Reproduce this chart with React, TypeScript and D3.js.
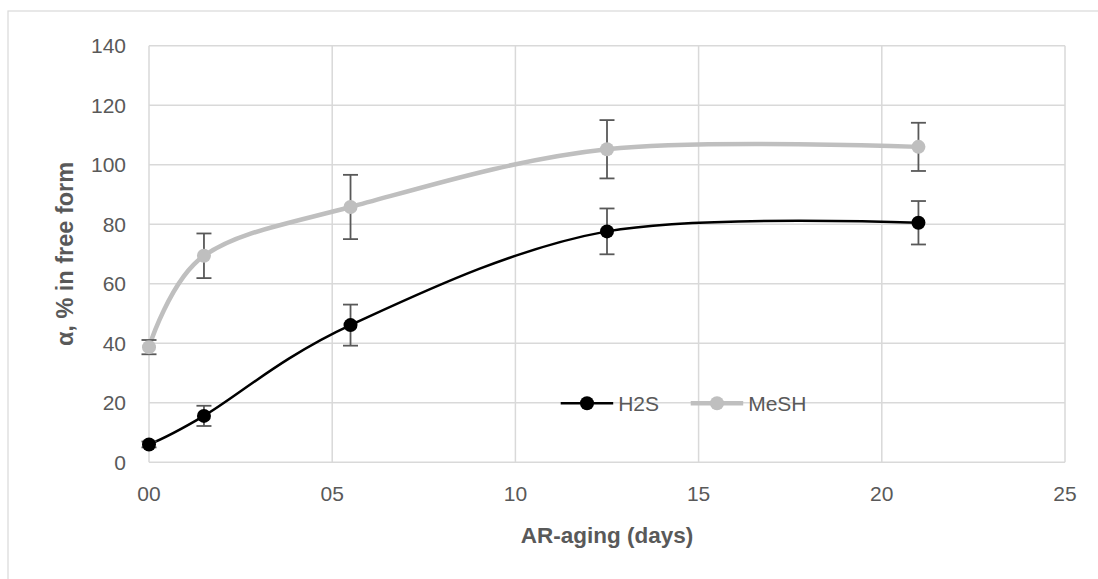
import * as d3 from "d3";

const W = 1098;
const H = 579;
const MARGIN = { top: 45.7, right: 33, bottom: 116.7, left: 149 };

const days = [0, 1.5, 5.5, 12.5, 21];
const h2s = [6, 15.6, 46.1, 77.6, 80.5];
const h2sErr = [1, 3.4, 6.9, 7.7, 7.3];
const mesh = [38.7, 69.4, 85.8, 105.2, 106];
const meshErr = [2.4, 7.5, 10.8, 9.8, 8.1];

const xTicks = [0, 5, 10, 15, 20, 25];
const yTicks = [0, 20, 40, 60, 80, 100, 120, 140];

const FONT = "'Liberation Sans', Arial, sans-serif";
const TEXT = "#595959";
const GRID = "#D9D9D9";

const series = [
  { name: "H2S", values: h2s, err: h2sErr, color: "#000000", width: 2.5 },
  { name: "MeSH", values: mesh, err: meshErr, color: "#BFBFBF", width: 4.5 },
];

export default function App() {
  const bw = W - MARGIN.left - MARGIN.right;
  const bh = H - MARGIN.top - MARGIN.bottom;

  const x = d3.scaleLinear().domain([0, 25]).range([0, bw]);
  const y = d3.scaleLinear().domain([0, 140]).range([bh, 0]);

  const line = d3
    .line<[number, number]>()
    .x((d) => x(d[0]))
    .y((d) => y(d[1]))
    .curve(d3.curveCardinal.tension(0));

  return (
    <svg
      width={W}
      height={H}
      style={{ position: "absolute", left: 0, top: 0, background: "#fff" }}
      fontFamily={FONT}
    >
      <rect x={8} y={11} width={1200} height={700} fill="none" stroke={GRID} strokeWidth={1.2} />
      <g transform={`translate(${MARGIN.left},${MARGIN.top})`}>
        {yTicks.map((t) => (
          <line key={"gy" + t} x1={0} x2={bw} y1={y(t)} y2={y(t)} stroke={GRID} strokeWidth={1.5} />
        ))}
        {xTicks.map((t) => (
          <line key={"gx" + t} x1={x(t)} x2={x(t)} y1={0} y2={bh} stroke={GRID} strokeWidth={1.5} />
        ))}
        {yTicks.map((t) => (
          <text
            key={"ty" + t}
            x={-23}
            y={y(t)}
            textAnchor="end"
            dominantBaseline="central"
            fontSize={21}
            fill={TEXT}
          >
            {t}
          </text>
        ))}
        {xTicks.map((t) => (
          <text
            key={"tx" + t}
            x={x(t)}
            y={bh + 31}
            textAnchor="middle"
            dominantBaseline="central"
            fontSize={21}
            fill={TEXT}
          >
            {d3.format("02d")(t)}
          </text>
        ))}
        {series.map((s) => (
          <g key={s.name}>
            <path
              d={line(days.map((d, i) => [d, s.values[i]] as [number, number])) ?? ""}
              fill="none"
              stroke={s.color}
              strokeWidth={s.width}
            />
            {days.map((d, i) => (
              <g key={i} stroke="#595959" strokeWidth={1.8}>
                <line x1={x(d)} x2={x(d)} y1={y(s.values[i] - s.err[i])} y2={y(s.values[i] + s.err[i])} />
                <line x1={x(d) - 7.5} x2={x(d) + 7.5} y1={y(s.values[i] - s.err[i])} y2={y(s.values[i] - s.err[i])} />
                <line x1={x(d) - 7.5} x2={x(d) + 7.5} y1={y(s.values[i] + s.err[i])} y2={y(s.values[i] + s.err[i])} />
              </g>
            ))}
            {days.map((d, i) => (
              <circle key={"c" + i} cx={x(d)} cy={y(s.values[i])} r={7} fill={s.color} />
            ))}
          </g>
        ))}
        {series.map((s, i) => {
          const lx = 411.7 + i * 130;
          const ly = 357.6;
          return (
            <g key={"lg" + s.name}>
              <line x1={lx} x2={lx + 52.5} y1={ly} y2={ly} stroke={s.color} strokeWidth={s.width} />
              <circle cx={lx + 26.3} cy={ly} r={7} fill={s.color} />
              <text x={lx + 57.5} y={ly} dominantBaseline="central" fontSize={21} fill={TEXT}>
                {s.name}
              </text>
            </g>
          );
        })}
        <text
          x={bw / 2}
          y={bh + 73}
          textAnchor="middle"
          dominantBaseline="central"
          fontSize={22.5}
          fontWeight="bold"
          fill={TEXT}
        >
          AR-aging (days)
        </text>
        <text
          transform={`translate(${65 - MARGIN.left},${bh / 2}) rotate(-90)`}
          textAnchor="middle"
          dominantBaseline="central"
          fontSize={23.5}
          fontWeight="bold"
          fill={TEXT}
        >
          α, % in free form
        </text>
      </g>
    </svg>
  );
}
